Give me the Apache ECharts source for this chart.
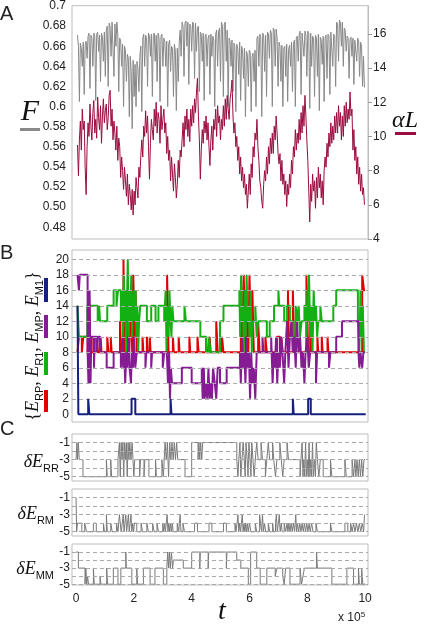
<!DOCTYPE html>
<html><head><meta charset="utf-8">
<script src="https://cdn.jsdelivr.net/npm/echarts@6/dist/echarts.min.js"></script>
<style>html,body{margin:0;padding:0;background:#fff}#c{width:424px;height:626px}</style>
</head><body><div id="c"></div>
<script>
// ---------- Panel A : sampled series (t in units of 1e5) ----------
const A_T0 = 0.05, A_DT = 0.0332;
const fValues = [
0.671,0.660,0.605,0.663,0.658,0.640,0.664,0.612,0.661,0.665,0.648,0.670,0.673,0.618,0.671,0.668,0.640,0.673,0.670,0.606,0.672,0.674,0.655,0.671,0.625,0.673,0.669,0.645,0.674,0.630,
0.676,0.680,0.620,0.683,0.679,0.650,0.684,0.685,0.630,0.682,0.660,0.684,0.672,0.615,0.668,0.665,0.640,0.662,0.600,0.660,0.655,0.625,0.652,0.648,0.590,0.650,0.635,0.578,0.646,0.610,
0.642,0.600,0.645,0.638,0.615,0.650,0.660,0.595,0.668,0.672,0.640,0.671,0.668,0.620,0.673,0.670,0.650,0.672,0.610,0.670,0.673,0.645,0.671,0.625,0.673,0.668,0.605,0.670,0.672,0.640,
0.668,0.664,0.640,0.665,0.600,0.662,0.666,0.635,0.660,0.658,0.610,0.662,0.655,0.596,0.658,0.625,0.664,0.676,0.650,0.684,0.680,0.630,0.683,0.685,0.660,0.684,0.622,0.682,0.680,0.655,
0.684,0.682,0.628,0.683,0.655,0.678,0.680,0.615,0.674,0.672,0.645,0.673,0.606,0.670,0.672,0.640,0.668,0.671,0.612,0.672,0.650,0.670,0.666,0.600,0.672,0.676,0.640,0.674,0.678,0.625,
0.684,0.680,0.610,0.682,0.684,0.645,0.676,0.600,0.668,0.665,0.640,0.666,0.615,0.663,0.660,0.595,0.662,0.658,0.632,0.664,0.606,0.660,0.656,0.628,0.658,0.590,0.655,0.652,0.620,0.656,
0.654,0.595,0.650,0.653,0.625,0.656,0.600,0.668,0.670,0.640,0.672,0.669,0.590,0.673,0.670,0.635,0.671,0.610,0.674,0.672,0.648,0.676,0.673,0.600,0.678,0.676,0.640,0.677,0.668,0.620,
0.664,0.660,0.625,0.661,0.600,0.658,0.660,0.630,0.662,0.605,0.657,0.661,0.640,0.664,0.615,0.662,0.666,0.600,0.668,0.670,0.645,0.672,0.675,0.612,0.673,0.674,0.650,0.675,0.671,0.630,
0.675,0.672,0.598,0.673,0.640,0.670,0.668,0.610,0.671,0.668,0.630,0.672,0.596,0.669,0.666,0.642,0.670,0.605,0.668,0.671,0.628,0.672,0.670,0.612,0.674,0.675,0.640,0.672,0.670,0.620,
0.684,0.682,0.645,0.686,0.683,0.660,0.684,0.640,0.678,0.676,0.655,0.670,0.668,0.628,0.667,0.669,0.650,0.668,0.622,0.666,0.667,0.645,0.668,0.665,0.630,0.664,0.660,0.620,0.650,0.619
];
const alphaLValues = [
9.5,7.7,9.8,10.9,9.2,11.6,10.4,10.9,8.2,6.6,9.4,10.8,10.0,11.9,10.6,9.8,11.4,12.1,10.2,11.0,9.9,12.3,11.1,10.4,11.8,9.6,11.2,12.2,10.8,11.5,
11.9,10.4,11.1,12.4,12.7,10.6,11.6,9.8,10.9,10.2,9.2,10.6,8.6,9.9,9.4,7.6,8.8,8.0,6.9,8.2,7.4,6.5,7.8,6.0,7.2,6.6,5.7,6.9,5.4,6.8,
6.0,7.6,7.0,6.4,8.2,7.6,8.9,9.8,8.8,10.6,10.0,11.5,10.2,11.2,9.4,7.5,9.6,11.0,10.4,9.8,11.6,10.6,12.0,10.2,11.4,11.0,9.6,11.8,10.4,11.0,
11.6,10.2,10.8,9.0,10.0,8.6,9.2,7.4,8.8,7.8,6.8,8.4,7.6,6.4,7.2,8.6,7.6,9.2,8.8,9.8,10.8,9.4,11.2,10.4,11.6,10.0,11.0,9.7,11.6,10.6,
11.8,10.8,12.2,11.4,12.6,13.4,11.2,9.8,7.5,9.2,10.4,9.6,10.9,10.2,11.2,9.8,10.8,9.4,8.3,9.8,10.6,9.2,11.0,10.4,11.6,10.0,11.8,10.8,11.2,9.8,
11.0,10.4,11.8,10.6,12.2,11.0,12.4,11.6,11.0,12.2,12.6,13.3,11.2,10.2,10.8,9.4,10.0,8.6,9.4,7.8,8.8,7.4,8.2,7.0,7.8,6.6,7.2,5.8,6.8,7.8,
6.6,8.4,7.6,9.4,8.8,10.2,9.8,11.0,9.4,8.6,7.4,7.0,6.2,5.8,7.2,8.0,7.4,8.8,7.8,9.4,8.4,9.9,9.0,10.2,9.0,10.6,9.8,11.2,10.2,9.0,
8.4,9.0,7.4,8.6,7.2,7.8,6.6,7.4,5.9,7.2,6.6,7.8,7.0,8.6,7.8,9.4,8.8,10.4,9.2,10.2,9.6,11.0,9.8,11.4,10.2,11.8,10.6,12.4,11.2,9.8,
8.6,6.8,5.0,7.2,6.2,7.8,6.8,7.4,5.8,7.6,6.4,8.2,7.0,7.8,6.4,7.4,6.0,8.0,8.8,8.2,9.6,8.8,10.2,9.4,10.8,9.6,10.6,9.8,11.2,10.2,
11.4,10.2,11.8,10.6,11.4,9.8,11.2,10.0,11.8,10.6,12.0,10.8,11.6,11.0,12.6,11.2,11.6,9.2,10.4,8.6,9.4,7.8,8.8,7.2,8.2,6.8,7.8,6.6,7.0,6.0
];
const fTicks = [0.48,0.50,0.52,0.54,0.56,0.58,0.60,0.62,0.64,0.66,0.68,0.70];
const fTickLabels = ['0.48','0.50','0.52','0.54','0.56','0.58','0.6','0.62','0.64','0.66','0.68','0.7'];
const aLTicks = [4,6,8,10,12,14,16];
const bTicks = [0,2,4,6,8,10,12,14,16,18,20];
const bGridLines = [2,4,6,8,10,12,14,16,18,20];
const cTicks = [-1,-3,-5];
const cGridLines = [-1,-2,-3,-4,-5];
const tTicks = [0,2,4,6,8,10];

// ---------- Panel B : step series [t, value] ----------
const eRP = [[0.05,8],[0.1,10],[0.2,8],[0.25,10],[0.4,8],[0.44,16],[0.5,8],[0.6,10],[0.64,8],[0.72,10],[0.76,8],[0.85,10],[0.88,8],[1.08,10],[1.12,8],[1.2,10],[1.23,8],[1.52,12],[1.56,8],[1.64,20],[1.68,8],[1.72,12],[1.75,8],[1.8,14],[1.84,8],[1.9,16],[1.94,8],[1.98,18],[2.02,10],[2.06,16],[2.1,8],[2.3,10],[2.33,8],[2.45,10],[2.48,8],[2.55,10],[2.58,8],[3.15,18],[3.2,8],[3.35,10],[3.38,8],[3.55,10],[3.58,8],[3.92,10],[3.95,8],[4.2,10],[4.24,8],[4.5,10],[4.53,8],[4.62,10],[4.66,8],[4.85,12],[4.9,8],[5.05,10],[5.1,8],[5.7,12],[5.74,8],[5.8,18],[5.86,8],[5.9,16],[5.96,8],[6.0,18],[6.05,10],[6.1,16],[6.15,8],[6.3,12],[6.35,8],[6.55,10],[6.6,8],[6.95,10],[7.05,8],[7.1,10],[7.15,8],[7.33,16],[7.37,8],[7.5,16],[7.55,8],[7.97,18],[8.03,8],[8.1,14],[8.14,8],[8.35,10],[8.38,8],[8.5,10],[8.53,8],[8.7,10],[8.73,8],[9.9,18],[9.96,16],[10.0,16]];
const eR1 = [[0.05,14],[0.1,10],[0.39,14],[0.75,12],[0.8,14],[0.83,12],[1.08,14],[1.3,16],[1.4,14],[1.45,16],[1.55,12],[1.58,16],[1.62,10],[1.65,18],[1.68,12],[1.7,16],[1.73,8],[1.76,14],[1.79,20],[1.82,10],[1.85,16],[1.88,12],[1.91,18],[1.94,10],[1.97,14],[2.0,16],[2.03,12],[2.06,16],[2.09,10],[2.12,14],[2.15,8],[2.18,12],[2.22,14],[2.45,12],[2.6,14],[2.75,12],[2.85,14],[3.05,12],[3.1,16],[3.13,8],[3.16,14],[3.2,10],[3.23,16],[3.27,12],[3.3,10],[3.33,14],[3.37,12],[3.75,14],[3.8,12],[4.3,10],[4.5,8],[4.6,10],[4.65,8],[4.98,12],[5.1,14],[5.65,16],[5.68,10],[5.71,18],[5.74,12],[5.77,14],[5.8,8],[5.84,16],[5.87,10],[5.9,18],[5.94,12],[5.97,14],[6.0,10],[6.04,16],[6.08,8],[6.12,12],[6.2,14],[6.25,10],[6.3,12],[6.6,10],[6.7,12],[6.85,14],[7.0,16],[7.03,14],[7.2,12],[7.3,14],[7.4,12],[7.52,10],[7.6,14],[7.65,12],[7.7,14],[7.75,10],[7.8,12],[7.9,14],[7.97,8],[8.0,16],[8.03,12],[8.06,18],[8.1,10],[8.14,14],[8.18,8],[8.22,16],[8.26,12],[8.3,14],[8.34,10],[8.38,12],[8.45,14],[8.5,12],[8.9,14],[9.0,16],[9.75,12],[9.8,8],[9.84,16],[9.88,10],[9.92,14],[9.96,8],[10.0,8]];
const eMP = [[0.05,18],[0.1,16],[0.13,18],[0.4,8],[0.43,4],[0.47,16],[0.5,4],[0.53,10],[0.62,6],[0.65,10],[0.72,8],[0.76,10],[0.83,8],[1.06,6],[1.3,8],[1.55,6],[1.6,10],[1.63,6],[1.67,8],[1.7,4],[1.74,8],[1.77,6],[1.82,10],[1.85,6],[1.9,4],[1.93,8],[1.97,6],[2.0,10],[2.05,6],[2.1,8],[2.4,6],[2.43,8],[2.6,6],[2.63,8],[3.0,6],[3.05,8],[3.14,8],[3.18,4],[3.22,8],[3.25,2],[3.28,6],[3.32,4],[3.66,6],[4.0,4],[4.35,6],[4.38,2],[4.42,6],[4.45,2],[4.5,4],[4.54,2],[4.58,6],[4.62,2],[4.66,4],[4.7,2],[4.74,6],[4.8,4],[4.85,2],[4.9,6],[4.98,4],[5.21,6],[5.67,8],[5.7,4],[5.74,10],[5.78,6],[5.82,8],[5.86,4],[5.9,10],[5.94,6],[5.98,8],[6.02,2],[6.06,8],[6.1,4],[6.15,6],[6.2,2],[6.25,8],[6.45,10],[6.48,8],[6.75,10],[6.8,4],[6.84,8],[6.88,6],[6.92,10],[6.96,4],[7.0,8],[7.05,6],[7.1,10],[7.14,8],[7.2,4],[7.24,8],[7.3,12],[7.35,6],[7.4,10],[7.45,12],[7.5,8],[7.55,10],[7.6,6],[7.64,12],[7.7,8],[7.75,10],[7.8,6],[7.85,8],[7.9,4],[7.94,8],[8.0,10],[8.05,6],[8.1,8],[8.3,4],[8.34,8],[8.75,6],[8.8,8],[9.0,10],[9.2,12],[9.77,8],[9.8,6],[9.84,8],[9.9,6],[9.94,8],[10.0,8]];
const eM1 = [[0.05,14],[0.08,0],[0.42,2],[0.46,0],[1.92,2],[2.05,0],[3.27,2],[3.3,0],[7.5,2],[7.53,0],[8.03,2],[8.12,0],[10.02,0]];

// ---------- Panel C : step series [t, value] ----------
const dERR = [[0.0,-3],[0.03,-1],[0.05,-3],[0.08,-1],[0.11,-3],[0.24,-5],[1.05,-3],[1.08,-5],[1.2,-3],[1.23,-5],[1.45,-3],[1.5,-1],[1.53,-5],[1.56,-1],[1.59,-3],[1.62,-1],[1.65,-5],[1.68,-1],[1.71,-3],[1.74,-1],[1.77,-5],[1.8,-1],[1.83,-3],[1.86,-1],[1.9,-3],[1.94,-1],[1.97,-3],[2.0,-5],[2.03,-3],[2.2,-5],[2.23,-3],[2.35,-5],[2.38,-3],[2.52,-5],[2.75,-3],[2.78,-5],[2.97,-3],[3.02,-5],[3.05,-3],[3.08,-1],[3.12,-3],[3.16,-1],[3.2,-5],[3.24,-1],[3.28,-3],[3.32,-1],[3.36,-3],[3.4,-1],[3.44,-3],[3.48,-1],[3.52,-3],[3.77,-5],[4.0,-1],[4.22,-3],[4.25,-1],[4.28,-3],[4.31,-1],[4.35,-3],[4.38,-1],[5.56,-3],[5.6,-5],[5.63,-3],[5.67,-1],[5.7,-5],[5.74,-3],[5.78,-1],[5.82,-3],[5.85,-5],[5.88,-1],[5.92,-3],[5.95,-5],[5.98,-1],[6.02,-3],[6.05,-5],[6.08,-1],[6.12,-3],[6.16,-5],[6.2,-3],[6.25,-1],[6.3,-3],[6.4,-1],[6.45,-3],[6.55,-5],[6.6,-3],[6.65,-1],[6.7,-3],[6.8,-1],[6.84,-3],[6.9,-5],[6.95,-3],[7.05,-1],[7.1,-3],[7.15,-5],[7.2,-3],[7.3,-1],[7.35,-3],[7.75,-5],[7.78,-3],[7.82,-1],[7.85,-5],[7.88,-3],[7.91,-5],[7.94,-1],[7.97,-5],[8.0,-3],[8.03,-5],[8.06,-1],[8.09,-5],[8.12,-3],[8.15,-5],[8.18,-1],[8.21,-5],[8.25,-3],[8.28,-5],[8.31,-1],[8.35,-3],[8.4,-5],[8.45,-3],[8.55,-5],[8.8,-3],[8.85,-5],[9.3,-3],[9.35,-5],[9.55,-3],[9.6,-5],[9.65,-3],[9.68,-5],[9.72,-3],[9.76,-5],[9.8,-3],[9.84,-5],[9.88,-3],[9.92,-5],[9.96,-3],[10.0,-3]];
const dERM = [[0.0,-1],[0.02,-5],[0.05,-4],[0.2,-5],[0.3,-4],[0.36,-5],[0.6,-4],[0.7,-5],[0.95,-4],[0.98,-5],[1.05,-3],[1.08,-5],[1.2,-4],[1.25,-5],[1.4,-4],[1.45,-5],[1.5,-3],[1.53,-4],[1.56,-5],[1.6,-4],[1.63,-3],[1.66,-5],[1.69,-4],[1.72,-3],[1.75,-5],[1.78,-4],[1.81,-3],[1.84,-5],[1.87,-4],[1.9,-3],[1.93,-5],[1.96,-4],[1.99,-5],[2.02,-4],[2.1,-5],[2.25,-4],[2.3,-5],[2.45,-4],[2.5,-5],[2.65,-4],[2.7,-5],[2.8,-4],[2.85,-5],[3.0,-4],[3.03,-5],[3.06,-4],[3.09,-5],[3.12,-4],[3.15,-3],[3.18,-5],[3.21,-4],[3.24,-5],[3.27,-4],[3.3,-5],[3.33,-4],[3.36,-5],[3.5,-4],[3.55,-5],[3.6,-3],[3.63,-5],[3.7,-4],[3.75,-5],[4.1,-4],[4.2,-5],[4.6,-4],[4.7,-5],[5.1,-4],[5.2,-5],[5.5,-4],[5.53,-5],[5.57,-4],[5.6,-3],[5.63,-5],[5.66,-4],[5.69,-5],[5.72,-4],[5.75,-3],[5.78,-5],[5.81,-4],[5.84,-5],[5.87,-4],[5.9,-5],[5.93,-4],[5.96,-5],[6.0,-4],[6.05,-5],[6.2,-4],[6.25,-5],[6.35,-3],[6.38,-4],[6.42,-5],[6.45,-3],[6.48,-5],[6.52,-4],[6.56,-5],[6.65,-4],[6.7,-5],[6.8,-4],[6.83,-5],[6.9,-4],[6.93,-3],[6.96,-5],[7.0,-4],[7.03,-3],[7.06,-5],[7.1,-4],[7.13,-5],[7.2,-4],[7.25,-5],[7.3,-4],[7.33,-5],[7.36,-4],[7.4,-5],[7.44,-4],[7.48,-5],[7.52,-4],[7.56,-5],[7.6,-3],[7.63,-5],[7.66,-4],[7.7,-5],[7.74,-4],[7.78,-5],[7.82,-4],[7.86,-5],[7.9,-4],[7.94,-5],[7.98,-4],[8.02,-5],[8.06,-4],[8.1,-5],[8.15,-4],[8.2,-5],[8.3,-4],[8.35,-5],[8.8,-4],[8.85,-5],[9.3,-4],[9.4,-5],[9.5,-4],[9.55,-5],[9.6,-4],[9.65,-5],[9.7,-4],[9.75,-5],[9.8,-4],[9.85,-5],[9.9,-4],[9.95,-5],[9.98,-3],[10.0,-3]];
const dEMM = [[0.0,-1],[0.08,-3],[0.31,-5],[0.34,-3],[0.37,-5],[0.4,-4],[0.43,-5],[0.6,-3],[0.63,-5],[0.83,-4],[0.86,-5],[1.06,-3],[1.09,-5],[1.29,-3],[1.45,-5],[1.55,-3],[1.72,-1],[1.74,-3],[1.93,-5],[2.1,-3],[2.13,-5],[2.33,-3],[2.56,-5],[2.73,-3],[3.02,-5],[3.14,-3],[3.17,-1],[3.2,-3],[3.23,-1],[3.26,-3],[3.3,-1],[3.34,-3],[3.37,-2],[3.71,-3],[4.0,-1],[4.28,-3],[4.3,-1],[4.57,-3],[4.59,-1],[5.2,-3],[5.22,-1],[5.56,-2],[5.7,-3],[5.96,-5],[6.04,-1],[6.25,-3],[6.37,-5],[6.6,-3],[6.89,-4],[6.95,-3],[7.15,-4],[7.2,-5],[7.25,-3],[7.4,-5],[7.75,-3],[7.8,-5],[7.85,-4],[7.9,-3],[8.32,-1],[8.35,-3],[8.85,-5],[9.37,-3],[9.6,-5],[9.77,-3],[9.8,-5],[9.88,-3],[9.92,-5],[10.0,-5]];

// ---------- chart ----------
const LBL = '#222', BORDER = '#bdbdbd', GRIDLINE = '#aaaaaa';
const SANS = 'Liberation Sans', SERIF = 'Liberation Serif';
const grids = [
  {left:72, top:2, width:296, height:237},
  {left:72, top:250, width:296, height:172},
  {left:72, top:434, width:296, height:47},
  {left:72, top:489, width:296, height:47},
  {left:72, top:544, width:296, height:41}
].map(g => Object.assign(g, {show:true, borderColor:BORDER, borderWidth:1, backgroundColor:'transparent'}));

const xAxes = grids.map((g, i) => ({
  type:'value', gridIndex:i, min:-0.14, max:10.1,
  axisLine:{show:false}, axisTick:{show:false}, splitLine:{show:false},
  axisLabel: i === 4 ? {customValues:tTicks, color:LBL, fontSize:12, fontFamily:SANS, margin:8} : {show:false}
}));

function leftAxis(gi, min, max, ticks, margin, fmt) {
  return {type:'value', gridIndex:gi, min, max, position:'left',
    axisLine:{show:false}, axisTick:{show:false}, splitLine:{show:false},
    axisLabel:{customValues:ticks, color:LBL, fontSize:12, fontFamily:SANS, margin, formatter: fmt}};
}
const yAxes = [
  leftAxis(0, 0.4683, 0.7003, fTicks, 6, v => { const i = fTicks.findIndex(x => Math.abs(x - v) < 1e-6); return i >= 0 ? fTickLabels[i] : ''; }),
  {type:'value', gridIndex:0, min:4, max:17.65, position:'right',
    axisLine:{show:true, lineStyle:{color:BORDER}}, axisTick:{show:true, length:4, customValues:aLTicks, lineStyle:{color:'#999'}},
    splitLine:{show:false}, axisLabel:{customValues:aLTicks, color:LBL, fontSize:12, fontFamily:SANS, margin:5}},
  leftAxis(1, -1, 21.2, bTicks, 3, v => String(v)),
  leftAxis(2, -5.5, 0, cTicks, 2, v => String(v)),
  leftAxis(3, -5.5, 0, cTicks, 2, v => String(v)),
  leftAxis(4, -5.1, 0, cTicks, 2, v => String(v))
];

function gridLineSeries(xi, yi, vals) {
  return {type:'line', xAxisIndex:xi, yAxisIndex:yi, data:[], z:1, silent:true,
    markLine:{silent:true, symbol:'none', animation:false, label:{show:false},
      lineStyle:{type:[4,3], color:GRIDLINE, width:1},
      data: vals.map(v => ({yAxis:v}))}};
}
function stepSeries(xi, yi, data, color, w, z) {
  return {type:'line', xAxisIndex:xi, yAxisIndex:yi, data, step:'end', showSymbol:false, z,
    lineStyle:{color, width:w}, itemStyle:{color}, silent:true};
}
const toA = arr => arr.map((v, i) => [A_T0 + i * A_DT, v]);

const series = [
  {type:'line', xAxisIndex:0, yAxisIndex:0, data:toA(fValues), showSymbol:false, z:2, silent:true, sampling:null,
    lineStyle:{color:'#888888', width:1}, itemStyle:{color:'#888888'}},
  {type:'line', xAxisIndex:0, yAxisIndex:1, data:toA(alphaLValues), showSymbol:false, z:3, silent:true,
    lineStyle:{color:'#9b0d40', width:1}, itemStyle:{color:'#9b0d40'}},
  gridLineSeries(1, 2, bGridLines),
  stepSeries(1, 2, eRP, '#e00000', 2, 2),
  stepSeries(1, 2, eR1, '#12b012', 2, 3),
  stepSeries(1, 2, eMP, '#861c93', 2, 4),
  stepSeries(1, 2, eM1, '#16207e', 2, 5),
  gridLineSeries(2, 3, cGridLines),
  gridLineSeries(3, 4, cGridLines),
  gridLineSeries(4, 5, cGridLines),
  stepSeries(2, 3, dERR, '#7a7a7a', 1, 2),
  stepSeries(3, 4, dERM, '#7a7a7a', 1, 2),
  stepSeries(4, 5, dEMM, '#7a7a7a', 1, 2)
];

const richE = {
  e:{fontFamily:SERIF, fontStyle:'italic', fontSize:18, lineHeight:24, fill:'#111'},
  d:{fontFamily:SERIF, fontStyle:'italic', fontSize:18, lineHeight:24, fill:'#111'},
  s:{fontFamily:SANS, fontSize:11, lineHeight:11, verticalAlign:'bottom', fill:'#111'}
};
const graphic = [
  {type:'text', x:0, y:4, style:{text:'A', fontFamily:SANS, fontSize:20, fill:'#222', verticalAlign:'top'}},
  {type:'text', x:0, y:243, style:{text:'B', fontFamily:SANS, fontSize:20, fill:'#222', verticalAlign:'top'}},
  {type:'text', x:0, y:419, style:{text:'C', fontFamily:SANS, fontSize:20, fill:'#222', verticalAlign:'top'}},
  {type:'text', x:30, y:112, style:{text:'F', fontFamily:SERIF, fontStyle:'italic', fontSize:30, fill:'#111', align:'center', verticalAlign:'middle'}},
  {type:'rect', shape:{x:20, y:128, width:20, height:3}, style:{fill:'#8a8a8a'}},
  {type:'text', x:405, y:121, style:{text:'αL', fontFamily:SERIF, fontStyle:'italic', fontSize:24, fill:'#111', align:'center', verticalAlign:'middle'}},
  {type:'rect', shape:{x:395, y:132, width:21, height:3}, style:{fill:'#9b0d40'}},
  {type:'text', x:33, y:346, rotation:Math.PI/2, style:{text:'{{e|E}{s|RP}, {e|E}{s|R1}, {e|E}{s|MP}, {e|E}{s|M1}}', rich:richE,
     fontFamily:SERIF, fontSize:18, fill:'#111', align:'center', verticalAlign:'middle'}},
  {type:'rect', shape:{x:44, y:390, width:4, height:22}, style:{fill:'#e00000'}},
  {type:'rect', shape:{x:44, y:352, width:4, height:23}, style:{fill:'#12b012'}},
  {type:'rect', shape:{x:44, y:315, width:4, height:23}, style:{fill:'#861c93'}},
  {type:'rect', shape:{x:44, y:278, width:4, height:24}, style:{fill:'#16207e'}},
  {type:'text', x:59, y:462, style:{text:'{d|δ}{e|E}{s|RR}', rich:richE, align:'right', verticalAlign:'middle'}},
  {type:'text', x:54, y:514, style:{text:'{d|δ}{e|E}{s|RM}', rich:richE, align:'right', verticalAlign:'middle'}},
  {type:'text', x:54, y:569, style:{text:'{d|δ}{e|E}{s|MM}', rich:richE, align:'right', verticalAlign:'middle'}},
  {type:'text', x:222, y:612, style:{text:'t', fontFamily:SERIF, fontStyle:'italic', fontSize:28, fill:'#111', align:'center', verticalAlign:'middle'}},
  {type:'text', x:338, y:618, style:{text:'x 10{p|5}', fontFamily:SANS, fontSize:12, fill:'#222', verticalAlign:'middle',
     rich:{p:{fontFamily:SANS, fontSize:8, verticalAlign:'top', lineHeight:14, fill:'#222'}}}}
];

const chart = echarts.init(document.getElementById('c'), null, {renderer:'canvas', width:424, height:626});
chart.setOption({animation:false, backgroundColor:'#fff', grid:grids, xAxis:xAxes, yAxis:yAxes, series, graphic});
</script></body></html>
